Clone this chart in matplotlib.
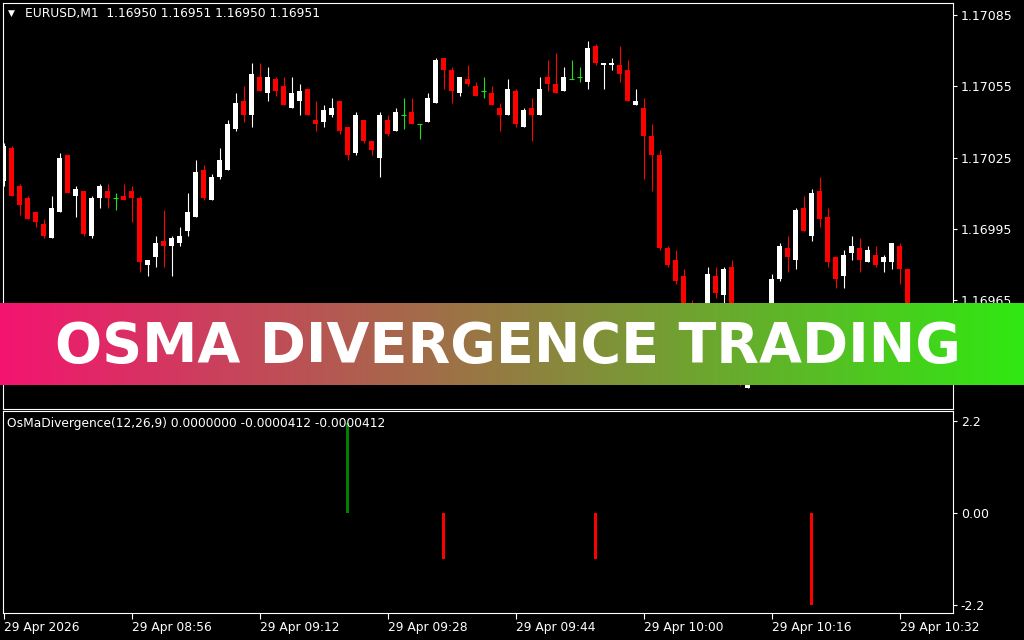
import numpy as np
import matplotlib
matplotlib.use('Agg')
import matplotlib.pyplot as plt

# EURUSD M1 bars, 29 Apr 2026 from 08:40 (one per minute)
opens = [1.17015, 1.17029, 1.17013, 1.17008, 1.17002, 1.16997, 1.16991, 1.17002, 1.17026, 1.17009,
         1.17011, 1.16992, 1.17008, 1.17011, 1.17008, 1.17009, 1.17011, 1.17008, 1.16980, 1.16983,
         1.16990, 1.16988, 1.16989, 1.16994, 1.17000, 1.17020, 1.17007, 1.17017, 1.17020, 1.17037,
         1.17049, 1.17043, 1.17059, 1.17052, 1.17058, 1.17055, 1.17046, 1.17049, 1.17054, 1.17041,
         1.17040, 1.17043, 1.17049, 1.17038, 1.17027, 1.17041, 1.17032, 1.17025, 1.17041, 1.17036,
         1.17043, 1.17044, 1.17039, 1.17040, 1.17048, 1.17067, 1.17062, 1.17052, 1.17058, 1.17055,
         1.17053, 1.17052, 1.17046, 1.17043, 1.17053, 1.17038, 1.17046, 1.17043, 1.17059, 1.17056,
         1.17053, 1.17058, 1.17059, 1.17057, 1.17072, 1.17064, 1.17064, 1.17064, 1.17062, 1.17047,
         1.17046, 1.17034, 1.17026, 1.16987, 1.16982, 1.16975, 1.16961, 1.16953, 1.16946, 1.16975,
         1.16967, 1.16979, 1.16952, 1.16928, 1.16944, 1.16952, 1.16963, 1.16974, 1.16987, 1.16982,
         1.17004, 1.16992, 1.17011, 1.17000, 1.16983, 1.16975, 1.16985, 1.16987, 1.16981, 1.16984,
         1.16981, 1.16981, 1.16988, 1.16978, 1.16950]
highs = [1.17031, 1.17030, 1.17014, 1.17009, 1.17002, 1.16999, 1.17009, 1.17027, 1.17026, 1.17013,
         1.17011, 1.17009, 1.17014, 1.17014, 1.17010, 1.17014, 1.17013, 1.17009, 1.16982, 1.16992,
         1.17003, 1.16992, 1.16996, 1.17010, 1.17024, 1.17022, 1.17018, 1.17029, 1.17041, 1.17052,
         1.17055, 1.17065, 1.17065, 1.17063, 1.17059, 1.17059, 1.17059, 1.17056, 1.17054, 1.17049,
         1.17047, 1.17050, 1.17049, 1.17038, 1.17044, 1.17041, 1.17032, 1.17044, 1.17043, 1.17046,
         1.17050, 1.17050, 1.17039, 1.17052, 1.17067, 1.17067, 1.17063, 1.17059, 1.17064, 1.17057,
         1.17059, 1.17055, 1.17048, 1.17058, 1.17054, 1.17046, 1.17050, 1.17059, 1.17066, 1.17069,
         1.17063, 1.17066, 1.17063, 1.17074, 1.17073, 1.17065, 1.17067, 1.17072, 1.17066, 1.17054,
         1.17050, 1.17039, 1.17028, 1.16988, 1.16986, 1.16978, 1.16965, 1.16957, 1.16979, 1.16979,
         1.16979, 1.16982, 1.16955, 1.16946, 1.16959, 1.16963, 1.16976, 1.16989, 1.16992, 1.17004,
         1.17009, 1.17012, 1.17017, 1.17004, 1.16983, 1.16986, 1.16992, 1.16991, 1.16988, 1.16988,
         1.16984, 1.16989, 1.16989, 1.16978, 1.16951]
lows = [1.17013, 1.17009, 1.17001, 1.16999, 1.16996, 1.16991, 1.16991, 1.17002, 1.17010, 1.17000,
        1.16992, 1.16991, 1.17004, 1.17004, 1.17003, 1.17007, 1.16998, 1.16977, 1.16975, 1.16979,
        1.16979, 1.16975, 1.16988, 1.16992, 1.17000, 1.17007, 1.17007, 1.17016, 1.17020, 1.17036,
        1.17040, 1.17038, 1.17053, 1.17049, 1.17051, 1.17047, 1.17046, 1.17043, 1.17043, 1.17036,
        1.17038, 1.17042, 1.17035, 1.17024, 1.17026, 1.17031, 1.17026, 1.17017, 1.17034, 1.17036,
        1.17037, 1.17039, 1.17033, 1.17040, 1.17048, 1.17054, 1.17048, 1.17051, 1.17055, 1.17051,
        1.17050, 1.17047, 1.17036, 1.17043, 1.17038, 1.17038, 1.17032, 1.17043, 1.17053, 1.17052,
        1.17053, 1.17058, 1.17057, 1.17054, 1.17064, 1.17054, 1.17062, 1.17057, 1.17049, 1.17047,
        1.17016, 1.17011, 1.16986, 1.16979, 1.16972, 1.16959, 1.16950, 1.16944, 1.16944, 1.16966,
        1.16961, 1.16948, 1.16929, 1.16928, 1.16942, 1.16950, 1.16961, 1.16973, 1.16977, 1.16978,
        1.16994, 1.16990, 1.16996, 1.16979, 1.16970, 1.16970, 1.16982, 1.16977, 1.16981, 1.16979,
        1.16977, 1.16978, 1.16972, 1.16948, 1.16950]
closes = [1.17030, 1.17009, 1.17005, 1.16999, 1.16998, 1.16992, 1.17004, 1.17025, 1.17010, 1.17012,
          1.16993, 1.17008, 1.17013, 1.17008, 1.17008, 1.17007, 1.17008, 1.16981, 1.16982, 1.16989,
          1.16988, 1.16991, 1.16992, 1.17002, 1.17019, 1.17008, 1.17017, 1.17024, 1.17039, 1.17048,
          1.17043, 1.17060, 1.17053, 1.17059, 1.17053, 1.17047, 1.17052, 1.17053, 1.17043, 1.17039,
          1.17045, 1.17046, 1.17036, 1.17026, 1.17043, 1.17032, 1.17028, 1.17043, 1.17035, 1.17044,
          1.17043, 1.17039, 1.17039, 1.17050, 1.17066, 1.17062, 1.17053, 1.17059, 1.17056, 1.17051,
          1.17053, 1.17047, 1.17043, 1.17054, 1.17039, 1.17045, 1.17043, 1.17054, 1.17056, 1.17052,
          1.17059, 1.17058, 1.17059, 1.17071, 1.17065, 1.17065, 1.17065, 1.17060, 1.17049, 1.17049,
          1.17034, 1.17026, 1.16987, 1.16980, 1.16973, 1.16961, 1.16952, 1.16946, 1.16976, 1.16968,
          1.16978, 1.16952, 1.16938, 1.16944, 1.16957, 1.16962, 1.16974, 1.16988, 1.16983, 1.17003,
          1.16994, 1.17010, 1.16999, 1.16981, 1.16974, 1.16984, 1.16988, 1.16982, 1.16986, 1.16980,
          1.16983, 1.16989, 1.16978, 1.16950, 1.16951]

# OsMA divergence signals (bar index -> value)
signal_bars = [43, 55, 74, 101]
signal_values = [2.15, -1.1, -1.1, -2.2]

price_ticks = [1.17085, 1.17055, 1.17025, 1.16995, 1.16965]
osma_ticks = [2.2, 0.0, -2.2]
osma_tick_labels = ['2.2', '0.00', '-2.2']
time_tick_bars = [0, 16, 32, 48, 64, 80, 96, 112]
time_tick_labels = ['29 Apr 2026', '29 Apr 08:56', '29 Apr 09:12', '29 Apr 09:28',
                    '29 Apr 09:44', '29 Apr 10:00', '29 Apr 10:16', '29 Apr 10:32']

W, H = 1024, 640
fig = plt.figure(figsize=(W / 100, H / 100), dpi=100, facecolor='black')


def px_axes(x0, y0, x1, y1):
    return fig.add_axes([x0 / W, 1 - y1 / H, (x1 - x0) / W, (y1 - y0) / H])


def style(ax):
    ax.set_facecolor('black')
    for s in ax.spines.values():
        s.set_color('white')
        s.set_linewidth(0.8)


# ---- price panel ----
ax = px_axes(2.5, 2.5, 952.5, 409)
style(ax)
idx = np.arange(len(opens))
o = np.array(opens)
c = np.array(closes)
hi = np.array(highs)
lo = np.array(lows)
bw = 5 / 8

for i in idx:
    if o[i] == c[i]:
        col = '#1EE11E'
        ax.vlines(i, lo[i], hi[i], color=col, lw=0.8)
        ax.hlines(o[i], i - bw / 2, i + bw / 2, color=col, lw=0.8)
        continue
    col = 'white' if c[i] > o[i] else '#FF0000'
    ax.vlines(i, lo[i], hi[i], color=col, lw=0.8)
    ax.bar(i, c[i] - o[i], bottom=o[i], width=bw, color=col, linewidth=0)

ax.set_xlim(-0.125, 118.625)
ax.set_ylim(1.17085 - 394 / 237700, 1.17085 + 12.5 / 237700)
ax.yaxis.tick_right()
ax.set_yticks(price_ticks)
ax.set_yticklabels([f'{p:.5f}' for p in price_ticks])
ax.tick_params(axis='y', colors='white', length=3, width=0.8, pad=3, labelsize=9)
ax.set_xticks([])

# ---- OsMA panel ----
ax2 = px_axes(2.5, 411, 952.5, 613)
style(ax2)
sig_colors = ['#008000' if v > 0 else '#FF0000' for v in signal_values]
ax2.bar(signal_bars, signal_values, width=3 / 8, color=sig_colors, linewidth=0)
ax2.set_xlim(-0.125, 118.625)
ax2.set_ylim(-2.401, 2.435)
ax2.yaxis.tick_right()
ax2.set_yticks(osma_ticks)
ax2.set_yticklabels(osma_tick_labels)
ax2.tick_params(axis='y', colors='white', length=3, width=0.8, pad=3, labelsize=9)
ax2.set_xticks(time_tick_bars)
ax2.set_xticklabels(time_tick_labels, ha='left')
ax2.tick_params(axis='x', colors='white', length=4, width=0.8, pad=2, labelsize=8.8)

# ---- labels ----
fig.text(11 / W, 1 - 13.5 / H, '\u25bc', color='white', fontsize=6.5, ha='center', va='center')
fig.text(25 / W, 1 - 14 / H, 'EURUSD,M1  1.16950 1.16951 1.16950 1.16951',
         color='white', fontsize=8.8, ha='left', va='center')
fig.text(7 / W, 1 - 424 / H, 'OsMaDivergence(12,26,9) 0.0000000 -0.0000412 -0.0000412',
         color='white', fontsize=8.8, ha='left', va='center')

# ---- banner ----
bax = fig.add_axes([0, 1 - 385 / H, 1, 82 / H])
left_col = np.array([244, 20, 112]) / 255
right_col = np.array([48, 232, 18]) / 255
t = np.linspace(0, 1, 512)[:, None]
grad = (left_col * (1 - t) + right_col * t)[None, :, :]
bax.imshow(grad, aspect='auto', extent=(0, 1, 0, 1))
bax.axis('off')
fig.text(507.5 / W, 1 - 362 / H, 'OSMA DIVERGENCE TRADING', color='white',
         fontsize=40, fontweight='bold', ha='center', va='baseline')

fig.savefig('out.png', dpi=100, facecolor='black')
